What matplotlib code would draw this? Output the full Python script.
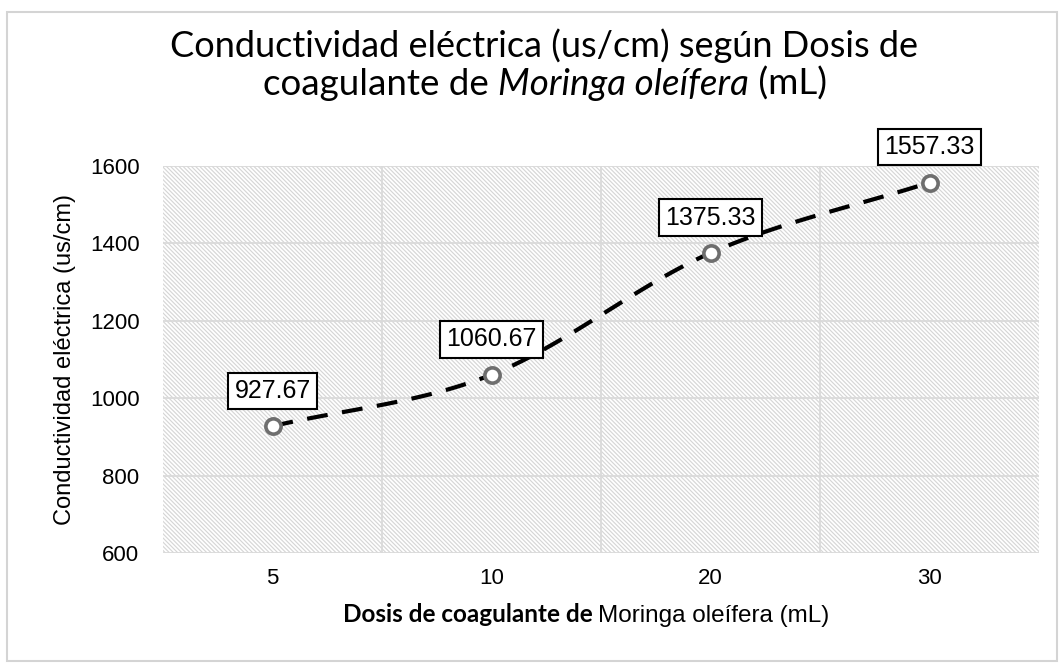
import numpy as np
import matplotlib.pyplot as plt
from matplotlib.patches import Rectangle

dosis = ['5', '10', '20', '30']
conductividad = [927.67, 1060.67, 1375.33, 1557.33]
y_ticks = [600, 800, 1000, 1200, 1400, 1600]

TITLE_FONT = ['Lato', 'DejaVu Sans']
ARIAL = ['Liberation Sans', 'DejaVu Sans']

plt.rcParams['hatch.color'] = '#d6d6d6'
plt.rcParams['hatch.linewidth'] = 0.85


def catmull_rom(xs, ys, n=30):
    # smoothed line like the spreadsheet's "smooth line" option
    px = np.concatenate([[2 * xs[0] - xs[1]], xs, [2 * xs[-1] - xs[-2]]])
    py = np.concatenate([[2 * ys[0] - ys[1]], ys, [2 * ys[-1] - ys[-2]]])
    out_x, out_y = [], []
    for i in range(1, len(px) - 2):
        t = np.linspace(0, 1, n)
        for arr, out in ((px, out_x), (py, out_y)):
            p0, p1, p2, p3 = arr[i - 1], arr[i], arr[i + 1], arr[i + 2]
            out.extend(0.5 * (2 * p1 + (-p0 + p2) * t
                              + (2 * p0 - 5 * p1 + 4 * p2 - p3) * t ** 2
                              + (-p0 + 3 * p1 - 3 * p2 + p3) * t ** 3))
    return np.array(out_x), np.array(out_y)


def rich_line(fig, pieces, xc, y, size):
    # draw pieces of text with different styles side by side, centred on xc
    r = fig.canvas.get_renderer()
    arts = []
    for txt, kw in pieces:
        t = fig.text(0, y, txt, fontsize=size, va='baseline', **kw)
        arts.append(t)
    widths = [a.get_window_extent(r).width / fig.bbox.width for a in arts]
    x = xc - sum(widths) / 2
    for a, w in zip(arts, widths):
        a.set_x(x)
        x += w


fig = plt.figure(figsize=(10.6, 6.64), dpi=100)
fig.patches.append(Rectangle((0.007, 0.005), 0.99, 0.977, transform=fig.transFigure,
                             fill=False, edgecolor='#d4d4d4', linewidth=1.5))

ax = fig.add_axes([0.1538, 0.1672, 0.8264, 0.5828])
xpos = np.arange(len(dosis))
ax.set_xlim(-0.5, len(dosis) - 0.5)
ax.set_ylim(600, 1600)

# hatched plot area
ax.add_patch(Rectangle((0, 0), 1, 1, transform=ax.transAxes, facecolor='white',
                       edgecolor='#d6d6d6', hatch='\\' * 8, linewidth=0, zorder=0))
for yv in y_ticks:
    ax.axhline(yv, color='#dadada', linewidth=1.3, zorder=1)
for xv in xpos[:-1] + 0.5:
    ax.axvline(xv, color='#dadada', linewidth=1.3, zorder=1)

sx, sy = catmull_rom(xpos.astype(float), np.array(conductividad))
ax.plot(sx, sy, color='black', linestyle=(0, (5, 3.5)), linewidth=3, zorder=3)
ax.plot(xpos, conductividad, linestyle='none', marker='o', markersize=11,
        markerfacecolor='white', markeredgecolor='#6e6e6e', markeredgewidth=2.6, zorder=4)

for x, v in zip(xpos, conductividad):
    ax.annotate(f'{v:.2f}', (x, v), xytext=(0, 25.5), textcoords='offset points',
                ha='center', va='center', fontsize=18, family=ARIAL, zorder=5,
                annotation_clip=False,
                bbox=dict(boxstyle='square,pad=0.25', facecolor='white',
                          edgecolor='black', linewidth=1.5))

ax.set_xticks(xpos)
ax.set_xticklabels(dosis, fontsize=16, family=ARIAL)
ax.set_yticks(y_ticks)
ax.set_yticklabels([str(v) for v in y_ticks], fontsize=16, family=ARIAL)
ax.tick_params(axis='y', length=0, pad=17)
ax.tick_params(axis='x', length=0, pad=11)
for s in ax.spines.values():
    s.set_visible(False)

ax.set_ylabel('Conductividad eléctrica (us/cm)', fontsize=17, family=ARIAL, labelpad=10)

rich_line(fig, [('Conductividad eléctrica (us/cm) según Dosis de', dict(family=TITLE_FONT))],
          0.513, 1 - 57 / 664, 26)
rich_line(fig, [('coagulante de ', dict(family=TITLE_FONT)),
                ('Moringa oleífera', dict(family=TITLE_FONT, style='italic')),
                (' (mL)', dict(family=TITLE_FONT))],
          0.514, 1 - 95 / 664, 26.5)
rich_line(fig, [('Dosis de coagulante de ', dict(family=TITLE_FONT, weight='bold')),
                ('Moringa oleífera (mL)', dict(family=ARIAL))],
          0.553, 1 - 622 / 664, 17.5)

fig.savefig('out.png', dpi=100)
